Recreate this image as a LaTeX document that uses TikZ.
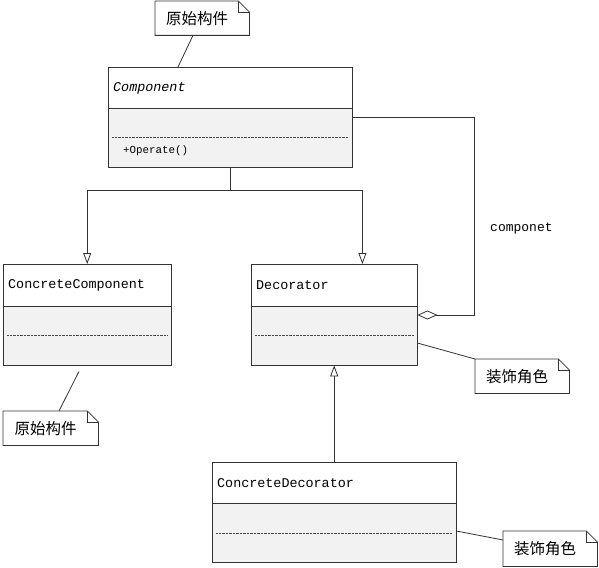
\documentclass[tikz,border=0pt]{standalone}
\usepackage{fontspec}
\setmonofont{Liberation Mono}
\newfontfamily\cjk{Noto Sans CJK SC}
\usetikzlibrary{arrows.meta,calc}
\definecolor{boxfill}{HTML}{F2F2F2}
\definecolor{lineclr}{HTML}{333333}
\tikzset{
  clsbox/.style={inner sep=0pt, anchor=north west},
  clstext/.style={anchor=west, inner sep=0pt, font=\ttfamily\fontsize{13.4}{15}\selectfont},
  optext/.style={anchor=west, inner sep=0pt, font=\ttfamily\fontsize{10.8}{12}\selectfont},
  dotline/.style={draw=black!70, line width=0.6pt, dash pattern=on 0.8pt off 0.6pt},
  notetext/.style={inner sep=0pt, font=\cjk\fontsize{15.5}{17}\selectfont},
  conn/.style={draw=lineclr, line width=0.8pt},
  inh/.style={conn, -{Triangle[open, length=11pt, width=8pt]}},
}
\newcommand{\umlclass}[8]{%
  % #1 name, #2 x, #3 y, #4 w, #5 h, #6 header height, #7 dotted offset, #8 title
  \node[clsbox, minimum width=#4pt, minimum height=#5pt] (#1) at (#2,#3) {};
  \fill[white] (#1.north west) rectangle ([yshift=-#6pt]#1.north east);
  \fill[boxfill] ([yshift=-#6pt]#1.north west) rectangle (#1.south east);
  \draw[conn] (#1.north west) rectangle (#1.south east);
  \draw[conn] ([yshift=-#6pt]#1.north west) -- ([yshift=-#6pt]#1.north east);
  \draw[dotline] ([shift={(4pt,-#7pt)}]#1.north west) -- ([shift={(-4pt,-#7pt)}]#1.north east);
  \node[clstext] (#1-title) at ([shift={(5pt,-21pt)}]#1.north west) {#8};
}
\newcommand{\umlnote}[5]{%
  % #1 name, #2 x, #3 y, #4 w, #5 h
  \node[inner sep=0pt, minimum width=#4pt, minimum height=#5pt, anchor=north west] (#1) at (#2,#3) {};
  \draw[conn, fill=white] (#1.north west) -- ([xshift=-11pt]#1.north east) -- ([yshift=-11pt]#1.north east) -- (#1.south east) -- (#1.south west) -- cycle;
  \draw[conn] ([xshift=-11pt]#1.north east) -- ([shift={(-11pt,-11pt)}]#1.north east) -- ([yshift=-11pt]#1.north east);
}
\begin{document}
\begin{tikzpicture}[x=1pt, y=-1pt]
\useasboundingbox (0,0) rectangle (599,567);
% classes
\umlclass{comp}{108}{67}{244}{100}{41}{70}{}
\node[clstext, font=\ttfamily\itshape\fontsize{13.4}{15}\selectfont] (comp-t) at ([shift={(5pt,-21pt)}]comp.north west) {Component};
\node[optext] (comp-op) at ([shift={(15pt,-84pt)}]comp.north west) {+Operate()};
\umlclass{cc}{3}{264}{168}{101}{42}{71}{ConcreteComponent}
\umlclass{dec}{251}{264}{166}{101}{42}{71}{Decorator}
\umlclass{cd}{212}{462}{244}{100}{41}{71}{ConcreteDecorator}
% notes
\umlnote{n1}{155}{1}{94}{34}
\node[notetext] at ([xshift=-5pt]n1.center) {原始构件};
\umlnote{n2}{3}{411}{95}{34}
\node[notetext] at ([xshift=-5pt]n2.center) {原始构件};
\umlnote{n3}{475}{359}{94}{34}
\node[notetext] at ([xshift=-5pt]n3.center) {装饰角色};
\umlnote{n4}{503}{531}{94}{35}
\node[notetext] at ([xshift=-5pt]n4.center) {装饰角色};
% note links
\draw[conn] ([xshift=38pt]n1.south west) -- ([xshift=70pt]comp.north west);
\draw[conn] ([xshift=56pt]n2.north west) -- ([xshift=76pt,yshift=-6pt]cc.south west);
\draw[conn] (n3.north west) -- ([yshift=-79pt]dec.north east);
\draw[conn] ([yshift=-9pt]n4.north west) -- ([yshift=-69pt]cd.north east);
% inheritance
\coordinate (split) at ($(comp.south)+(0,23)$);
\draw[conn] (comp.south) -- (split);
\draw[inh] (split) -| (cc.north);
\draw[inh] (split) -| ([xshift=-55pt]dec.north east);
\draw[inh] (cd.north) -- (dec.south);
% aggregation
\coordinate (aggc) at (474,117);
\draw[conn, {Diamond[open, length=20pt, width=9pt]}-] ([yshift=-51pt]dec.north east) -| (aggc) -- (aggc -| comp.east);
\node[clstext, font=\ttfamily\fontsize{13}{15}\selectfont] (lbl) at (490,229) {componet};
\end{tikzpicture}
\end{document}
